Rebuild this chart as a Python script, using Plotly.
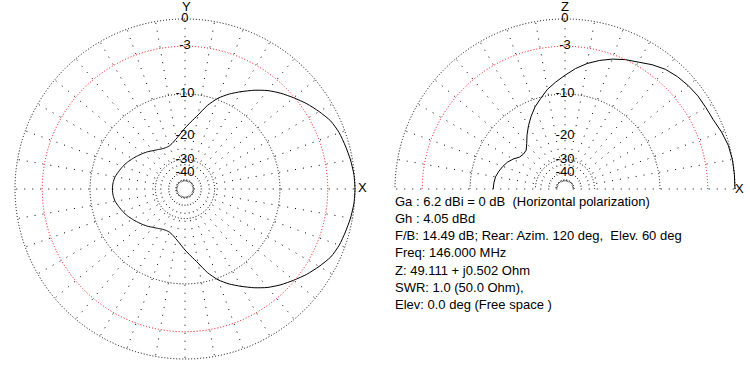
import plotly.graph_objects as go

# ---------------- data (dB) ----------------
az_theta = list(range(0, 365, 5))
az_db = [0.0, -0.05, -0.2, -0.4, -0.6, -0.95, -1.6, -2.3, -3.1, -3.9,
         -4.8, -5.9, -7.1, -8.3, -9.7, -11.6, -14.0, -15.9, -17.6, -19.3,
         -20.7, -21.8, -22.5, -22.6, -22.3, -21.7, -21.0, -20.1, -19.3, -18.5,
         -17.7, -16.9, -16.2, -15.6, -15.0, -14.7, -14.6,
         -14.7, -15.0, -15.6, -16.2, -16.9, -17.7, -18.5, -19.3, -20.1,
         -21.0, -21.7, -22.3, -22.6, -22.5, -21.8, -20.7, -19.3, -17.6, -15.9,
         -14.0, -11.6, -9.7, -8.3, -7.1, -5.9, -4.8, -3.9, -3.1, -2.3,
         -1.6, -0.95, -0.6, -0.4, -0.2, -0.05, 0.0]

el_theta = list(range(0, 185, 5))
el_db = [0.0, 0.0, 0.0, -0.1, -0.35, -0.65, -0.75, -0.8, -0.95, -1.15,
         -1.45, -1.95, -2.55, -3.0, -3.55, -4.2, -4.95, -5.85, -6.9, -7.9,
         -8.9, -10.2, -11.4, -12.9, -14.5, -16.2, -18.0, -19.4, -19.6, -19.2,
         -17.9, -16.9, -16.2, -15.6, -15.1, -14.9, -14.8]

ring_db = [0, -10, -30, -50]
red_ring_db = [-3]
label_db = [0, -3, -10, -20, -30, -40]
label_text = ["0", "-3", "-10", "-20", "-30", "-40"]

info_lines = [
    "Ga : 6.2 dBi = 0 dB  (Horizontal polarization)",
    "Gh : 4.05 dBd",
    "F/B: 14.49 dB; Rear: Azim. 120 deg,  Elev. 60 deg",
    "Freq: 146.000 MHz",
    "Z: 49.111 + j0.502 Ohm",
    "SWR: 1.0 (50.0 Ohm),",
    "Elev: 0.0 deg (Free space )",
]


# ARRL log-periodic scale: 0.89 per 2 dB
def scale(db):
    return 0.89 ** (-db / 2.0)


R_LO = scale(-53)
R_MAX = 1.015          # small headroom so the 0 dB ring is drawn as a grid line
FONT = "Liberation Sans"
FS = 13

W, H = 750, 369
R_PX = 170 * R_MAX
fig = go.Figure()

# pattern traces
fig.add_trace(go.Scatterpolar(
    r=[scale(v) for v in az_db], theta=az_theta, mode="lines",
    line=dict(color="black", width=1, shape="spline", smoothing=0.6),
    subplot="polar", showlegend=False, hoverinfo="skip"))
fig.add_trace(go.Scatterpolar(
    r=[scale(v) for v in el_db], theta=el_theta, mode="lines",
    line=dict(color="black", width=1),
    subplot="polar3", showlegend=False, hoverinfo="skip"))

# scale labels
for sp in ("polar", "polar3"):
    fig.add_trace(go.Scatterpolar(
        r=[scale(v) for v in label_db], theta=[90] * len(label_db),
        mode="text", text=label_text, textposition="middle center",
        textfont=dict(family=FONT, size=FS, color="black"),
        cliponaxis=False, subplot=sp, showlegend=False, hoverinfo="skip"))


def dom_x(cx, half):
    return [(cx - half) / W, (cx + half) / W]


def dom_y(top, bottom):
    return [1 - bottom / H, 1 - top / H]


def polar_layout(domain, sector, black=True):
    ticks = ring_db if black else red_ring_db
    return dict(
        domain=domain,
        sector=sector,
        hole=R_LO / R_MAX,
        bgcolor="rgba(0,0,0,0)",
        radialaxis=dict(
            range=[R_LO, R_MAX], tickmode="array",
            tickvals=[scale(v) for v in ticks],
            showticklabels=False, ticks="", showline=False,
            showgrid=True, gridcolor="black" if black else "red",
            gridwidth=1, griddash="1px,2px"),
        angularaxis=dict(
            tickmode="linear", dtick=10, tick0=0,
            showticklabels=False, ticks="", showline=False,
            showgrid=black, gridcolor="black", gridwidth=1,
            griddash="1px,7px", direction="counterclockwise", rotation=0),
    )


left_dom = dict(x=dom_x(185, R_PX), y=dom_y(189 - R_PX, 189 + R_PX))
right_dom = dict(x=dom_x(565, R_PX), y=dom_y(189 - R_PX, 189))

fig.update_layout(
    width=W, height=H,
    margin=dict(l=0, r=0, t=0, b=0),
    paper_bgcolor="white", plot_bgcolor="white",
    polar=polar_layout(left_dom, [0, 360], True),
    polar2=polar_layout(left_dom, [0, 360], False),
    polar3=polar_layout(right_dom, [0, 180], True),
    polar4=polar_layout(right_dom, [0, 180], False),
)

# invisible traces so the red -3 dB ring layers render
for sp in ("polar2", "polar4"):
    fig.add_trace(go.Scatterpolar(r=[R_LO], theta=[0], mode="markers",
                                  marker=dict(size=0.1, opacity=0),
                                  subplot=sp, showlegend=False, hoverinfo="skip"))

anns = []
for txt, x, y in (("Y", 186, 7), ("X", 362, 187), ("Z", 565, 7), ("X", 739, 188)):
    anns.append(dict(text=txt, x=x / W, y=1 - y / H, xref="paper", yref="paper",
                     showarrow=False, xanchor="center", yanchor="middle",
                     borderpad=0,
                     font=dict(family=FONT, size=FS, color="black")))
for i, line in enumerate(info_lines):
    anns.append(dict(text=line, x=393 / W, y=1 - (201 + 17.3 * i) / H,
                     xref="paper", yref="paper", showarrow=False,
                     xanchor="left", yanchor="middle",
                     font=dict(family=FONT, size=FS, color="black")))
fig.update_layout(annotations=anns)

fig.write_html("out.html")
